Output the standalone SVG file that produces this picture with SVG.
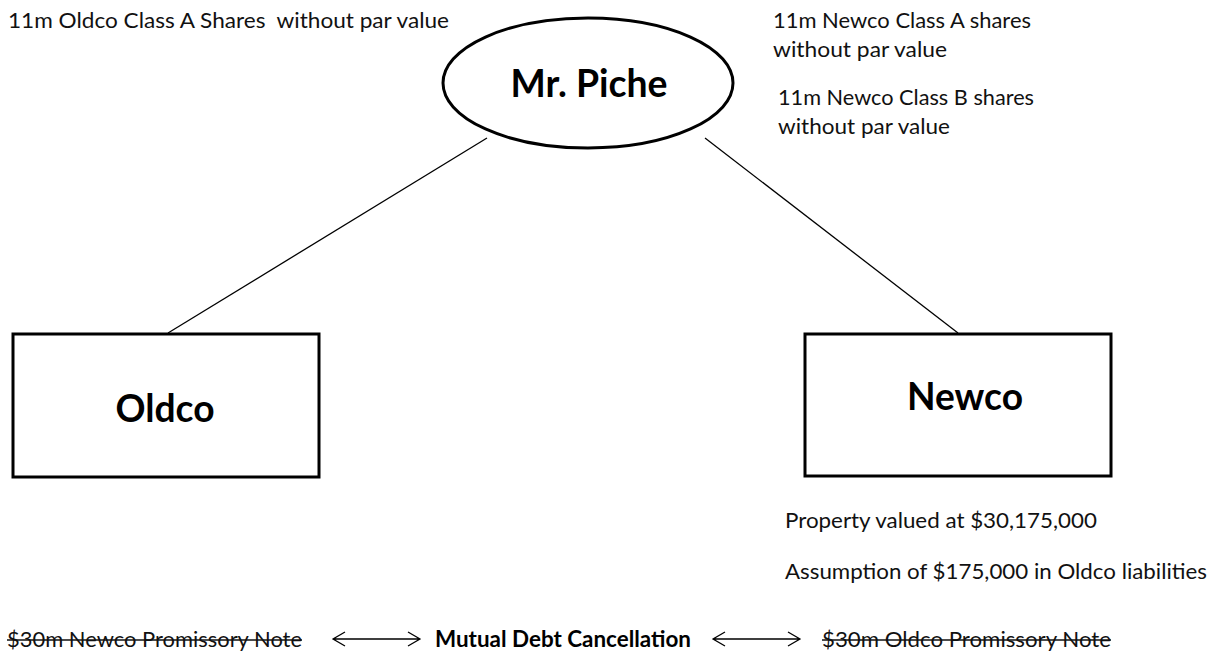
<svg xmlns="http://www.w3.org/2000/svg" width="1218" height="654" viewBox="0 0 1218 654">
<style>
.t{font-family:Lato,"Open Sans","Liberation Sans",sans-serif;font-size:22px;fill:#111;white-space:pre}
.b{font-family:Lato,"Open Sans","Liberation Sans",sans-serif;font-weight:bold;fill:#000}
.node{fill:#fff;stroke:#000;stroke-width:3}
.conn{stroke:#000;stroke-width:1.3;fill:none}
.strike{stroke:#111;stroke-width:1.5}
</style>
<rect width="1218" height="654" fill="#fff"/>
<g id="connectors">
<line class="conn" x1="487" y1="138" x2="168" y2="333"/>
<line class="conn" x1="705" y1="138" x2="958" y2="333"/>
</g>
<g id="node-mr-piche">
<ellipse class="node" cx="588" cy="83" rx="145" ry="65"/>
<text class="b" x="589" y="97" font-size="39" text-anchor="middle" textLength="157" lengthAdjust="spacingAndGlyphs">Mr. Piche</text>
</g>
<g id="node-oldco">
<rect class="node" x="13" y="334" width="306" height="143"/>
<text class="b" x="165" y="422" font-size="39" text-anchor="middle" textLength="99" lengthAdjust="spacingAndGlyphs">Oldco</text>
</g>
<g id="node-newco">
<rect class="node" x="805" y="334" width="306" height="142"/>
<text class="b" x="965" y="410" font-size="39" text-anchor="middle" textLength="116" lengthAdjust="spacingAndGlyphs">Newco</text>
</g>
<g id="labels">
<text class="t" x="8" y="28" textLength="441" lengthAdjust="spacingAndGlyphs">11m Oldco Class A Shares  without par value</text>
<text class="t" x="773" y="28" textLength="258" lengthAdjust="spacingAndGlyphs">11m Newco Class A shares</text>
<text class="t" x="773" y="57" textLength="174" lengthAdjust="spacingAndGlyphs">without par value</text>
<text class="t" x="778" y="105" textLength="256" lengthAdjust="spacingAndGlyphs">11m Newco Class B shares</text>
<text class="t" x="778" y="134" textLength="172" lengthAdjust="spacingAndGlyphs">without par value</text>
<text class="t" x="785" y="528" textLength="312" lengthAdjust="spacingAndGlyphs">Property valued at $30,175,000</text>
<text class="t" x="785" y="579" textLength="422" lengthAdjust="spacingAndGlyphs">Assumption of $175,000 in Oldco liabilities</text>
</g>
<g id="bottom-row">
<text class="t" x="7" y="647" textLength="295" lengthAdjust="spacingAndGlyphs">$30m Newco Promissory Note</text>
<line class="strike" x1="7" y1="640" x2="302" y2="640"/>
<path class="conn" d="M333 639 H420 M345 632 L333 639 L345 646 M408 632 L420 639 L408 646"/>
<text class="b" x="435" y="647" font-size="22" textLength="256" lengthAdjust="spacingAndGlyphs">Mutual Debt Cancellation</text>
<path class="conn" d="M713 639 H800 M725 632 L713 639 L725 646 M788 632 L800 639 L788 646"/>
<text class="t" x="822" y="647" textLength="289" lengthAdjust="spacingAndGlyphs">$30m Oldco Promissory Note</text>
<line class="strike" x1="822" y1="640" x2="1111" y2="640"/>
</g>
</svg>
